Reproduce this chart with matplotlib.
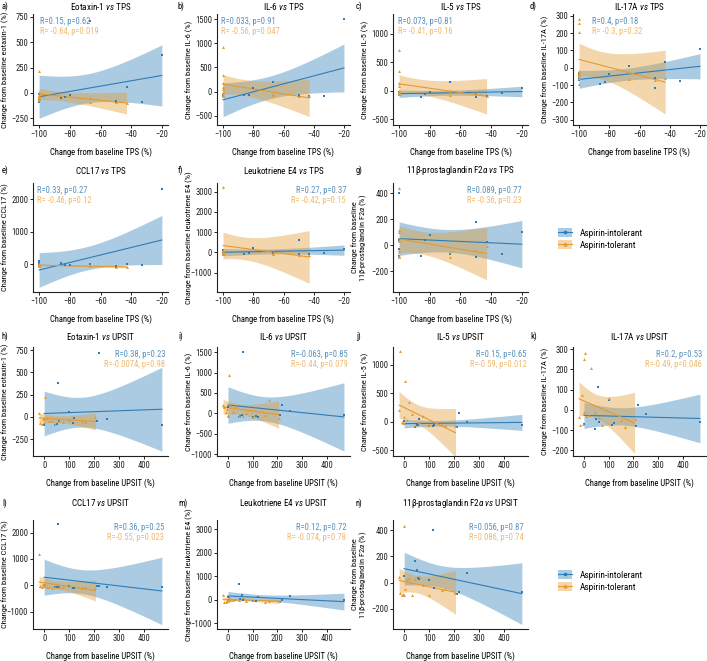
import numpy as np
import matplotlib
matplotlib.use('Agg')
import matplotlib.pyplot as plt
from matplotlib.patches import Patch
from matplotlib.lines import Line2D
from matplotlib import font_manager as fm

names = {f.name for f in fm.fontManager.ttflist}
FONT = 'Lato'
for cand in ['Roboto Condensed', 'Fira Sans Condensed', 'PT Sans Narrow', 'Source Sans 3', 'Source Sans Pro']:
    if cand in names:
        FONT = cand
        break
plt.rcParams['font.family'] = [FONT, 'DejaVu Sans']
plt.rcParams['mathtext.fontset'] = 'custom'
plt.rcParams['mathtext.rm'] = FONT
plt.rcParams['mathtext.it'] = FONT + ':italic'

BLUE = '#2f7db8'
ORANGE = '#e49a30'
BLUE_TXT = '#5a92bd'
ORANGE_TXT = '#efbb72'

# ---------------- shared x values ----------------
tps_int = [-100, -100, -100, -100, -86, -83, -80, -67, -50, -50, -43, -33, -20]
tps_tol = [-100, -100, -100, -100, -100, -100, -100, -100, -100, -67, -67, -50, -43]
upsit_int = [0, 45, 50, 55, 60, 100, 115, 120, 210, 220, 250, 470]
upsit_tol = [-20, -15, -10, -5, 0, 0, 5, 10, 20, 30, 45, 60, 75, 100, 150, 165, 205]

# ---------------- y values (TPS panels) ----------------
eot_tps_int = [-10, -70, -80, -85, -55, -45, -20, 710, -80, -90, 60, -85, 375]
eot_tps_tol = [220, -50, -60, -45, -30, -20, -70, 10, -40, -50, -90, -85, -95]
il6_tps_int = [-100, -80, -60, -90, -70, -60, 70, 200, -60, -80, -80, -90, 1500]
il6_tps_tol = [930, 340, 180, 100, 50, 0, -30, -60, -80, -50, -60, -80, -90]
il5_tps_int = [-30, -60, -70, -50, -110, -60, -20, 150, -60, -110, -90, -40, 50]
il5_tps_tol = [710, 350, 130, 80, 0, -20, -50, -60, -40, 0, -80, -40, -90]
il17_tps_int = [-40, -70, -60, -30, -95, -80, -35, 10, -60, -115, 35, -75, 110]
il17_tps_tol = [280, 260, 205, -30, -40, -60, -95, -50, -20, -25, -65, -70, -60]
ccl_tps_int = [100, 50, -50, 0, 40, -20, -30, 10, -90, -60, 10, -30, 2320]
ccl_tps_tol = [0, -20, -30, -40, 10, -10, -50, -60, 20, -30, -60, -70, -80]
lte_tps_int = [100, -100, 0, 50, -100, -20, 200, -50, 600, -100, -80, -30, 150]
lte_tps_tol = [3200, -100, -50, 0, 50, 100, -20, -80, 20, -50, -100, -120, -150]
pgf_tps_int = [400, -30, -80, 40, -80, 40, 75, -65, 175, -90, 25, -65, 100]
pgf_tps_tol = [440, 120, 100, 40, -40, -90, -80, 30, -50, -55, -90, -40, -10]

# ---------------- y values (UPSIT panels) ----------------
eot_up_int = [-85, -85, -75, 380, -40, 60, -65, -15, -45, 720, -20, -90]
eot_up_tol = [50, -70, -75, -20, -10, -60, 225, -15, -40, -45, -80, -45, -55, -30, -45, -60, -5]
il6_up_int = [150, -80, -60, -50, 1500, -80, -60, -80, -40, 210, 60, -50]
il6_up_tol = [200, 150, 30, 100, -30, -60, 940, 200, 30, 180, -60, -70, 10, -80, -50, 340, -100]
il5_up_int = [20, -100, -60, -50, 50, -80, -70, -50, -90, 160, 0, -50]
il5_up_tol = [200, 1250, 0, -30, 80, -30, 720, 30, 350, 140, -50, 0, 100, -60, -60, -80, -70]
il17_up_int = [-70, -95, -45, 115, -60, 50, -75, -65, -80, 25, -20, -60]
il17_up_tol = [-35, -75, 75, -70, -10, 250, 280, -30, -25, 205, -10, -40, -75, 60, -50, -85, -45]
ccl_up_int = [0, -50, -80, 2330, -50, -10, -90, -100, -10, -30, -60, -50]
ccl_up_tol = [1200, -20, -50, 50, 0, -30, 30, -60, -80, -90, -70, -60, -80, -40, -90, -50, -110]
lte_up_int = [100, 650, 50, 200, 0, -50, -50, 100, -100, 0, 170, -30]
lte_up_tol = [200, -100, -80, 0, 50, -50, 100, -20, -30, 30, -20, 100, -50, -30, -80, -40, -60]
pgf_up_int = [50, 165, 95, 35, 30, 20, 400, -40, -90, -75, 70, -70]
pgf_up_tol = [45, -80, -95, -90, 430, -95, -50, 30, 35, -95, 30, 50, -20, -95, -55, -45, -80]

# ---------------- labels ----------------
letters = list('abcdefghijklmn')
markers = ['Eotaxin-1', 'IL-6', 'IL-5', 'IL-17A', 'CCL17', 'Leukotriene E4',
           '11β-prostaglandin F2$\\alpha$']
ylabels = ['Change from baseline eotaxin-1 (%)', 'Change from baseline IL-6 (%)',
           'Change from baseline IL-5 (%)', 'Change from baseline IL-17A (%)',
           'Change from baseline CCL17 (%)', 'Change from baseline leukotriene E4 (%)',
           'Change from baseline\n11β-prostaglandin F2$\\alpha$ (%)']
stats_int = ['R=0.15, p=0.62', 'R=0.033, p=0.91', 'R=0.073, p=0.81', 'R=0.4, p=0.18',
             'R=0.33, p=0.27', 'R=0.27, p=0.37', 'R=0.089, p=0.77',
             'R=0.38, p=0.23', 'R=-0.063, p=0.85', 'R=0.15, p=0.65', 'R=0.2, p=0.53',
             'R=0.36, p=0.25', 'R=0.12, p=0.72', 'R=0.056, p=0.87']
stats_tol = ['R= -0.64, p=0.019', 'R= -0.56, p=0.047', 'R= -0.41, p=0.16', 'R= -0.3, p=0.32',
             'R= -0.46, p=0.12', 'R= -0.42, p=0.15', 'R= -0.36, p=0.23',
             'R=-0.0074, p=0.98', 'R=-0.44, p=0.079', 'R=-0.59, p=0.012', 'R=-0.49, p=0.046',
             'R=-0.55, p=0.023', 'R= -0.074, p=0.78', 'R=0.086, p=0.74']

ys_int = [eot_tps_int, il6_tps_int, il5_tps_int, il17_tps_int, ccl_tps_int, lte_tps_int, pgf_tps_int,
          eot_up_int, il6_up_int, il5_up_int, il17_up_int, ccl_up_int, lte_up_int, pgf_up_int]
ys_tol = [eot_tps_tol, il6_tps_tol, il5_tps_tol, il17_tps_tol, ccl_tps_tol, lte_tps_tol, pgf_tps_tol,
          eot_up_tol, il6_up_tol, il5_up_tol, il17_up_tol, ccl_up_tol, lte_up_tol, pgf_up_tol]

ylims = [(-317, 779), (-690, 1606), (-602, 1345), (-330, 310), (-843, 2493), (-1950, 3420), (-360, 478),
         (-437, 784), (-1042, 1625), (-603, 1316), (-228, 311), (-1663, 2483), (-1250, 3400), (-353, 477)]
yticks = [[-250, 0, 250, 500, 750], [-500, 0, 500, 1000, 1500], [-500, 0, 500, 1000],
          [-300, -200, -100, 0, 100, 200, 300], [0, 1000, 2000], [-1000, 0, 1000, 2000, 3000],
          [-200, 0, 200, 400],
          [-250, 0, 250, 500, 750], [-1000, -500, 0, 500, 1000, 1500], [-500, 0, 500, 1000],
          [-200, -100, 0, 100, 200, 300], [-1000, 0, 1000, 2000], [-1000, 0, 1000, 2000, 3000],
          [-200, 0, 200, 400]]
# annotation: (x, ha)
ann_pos = [(0.05, 'left'), (0.03, 'left'), (0.04, 'left'), (0.14, 'left'),
           (0.03, 'left'), (0.97, 'right'), (0.95, 'right'),
           (0.98, 'right'), (0.98, 'right'), (0.99, 'right'), (0.97, 'right'),
           (0.97, 'right'), (0.97, 'right'), (0.97, 'right')]

W, H = 707, 661
fig = plt.figure(figsize=(W / 100, H / 100), dpi=100)

col_lr = [(33, 168), (217, 350), (393, 528), (573, 706)]
row_tb = [(14, 125), (183, 292), (347, 456), (520, 629)]
title_y = [6, 170, 336, 503]
letter_x = [2, 178, 356, 530]
panel_grid = [(0, 0), (0, 1), (0, 2), (0, 3), (1, 0), (1, 1), (1, 2),
              (2, 0), (2, 1), (2, 2), (2, 3), (3, 0), (3, 1), (3, 2)]


def t_quant(df, z=1.959964):
    return (z + (z ** 3 + z) / (4 * df) + (5 * z ** 5 + 16 * z ** 3 + 3 * z) / (96 * df ** 2)
            + (3 * z ** 7 + 19 * z ** 5 + 17 * z ** 3 - 15 * z) / (384 * df ** 3))


def regplot(ax, x, y, color, marker, ms):
    x = np.asarray(x, float)
    y = np.asarray(y, float)
    n = len(x)
    b, a = np.polyfit(x, y, 1)
    xs = np.linspace(x.min(), x.max(), 120)
    yh = a + b * xs
    res = y - (a + b * x)
    s = np.sqrt(np.sum(res ** 2) / (n - 2))
    sxx = np.sum((x - x.mean()) ** 2)
    se = s * np.sqrt(1 / n + (xs - x.mean()) ** 2 / sxx)
    t = t_quant(n - 2)
    ax.fill_between(xs, yh - t * se, yh + t * se, color=color, alpha=0.4, lw=0, zorder=1)
    ax.plot(xs, yh, color=color, lw=0.8, zorder=3)
    ax.scatter(x, y, marker=marker, s=ms, color=color, lw=0, zorder=4)


FS = 6.2
for i, (r, c) in enumerate(panel_grid):
    l, rr = col_lr[c]
    t, b = row_tb[r]
    wpx = rr - l
    ax = fig.add_axes([l / W, 1 - b / H, wpx / W, (b - t) / H])
    tps = i < 7
    xi = tps_int if tps else upsit_int
    xt = tps_tol if tps else upsit_tol
    regplot(ax, xi, ys_int[i], BLUE, 's', 3.5)
    regplot(ax, xt, ys_tol[i], ORANGE, '^', 4.5)
    if tps:
        ax.set_xlim(-104, -16)
        ax.set_xticks([-100, -80, -60, -40, -20])
    else:
        ax.set_xlim(-44.5, 494.5)
        ax.set_xticks([0, 100, 200, 300, 400])
    ax.set_ylim(*ylims[i])
    ax.set_yticks(yticks[i])
    for sp in ['top', 'right']:
        ax.spines[sp].set_visible(False)
    for sp in ['left', 'bottom']:
        ax.spines[sp].set_linewidth(0.8)
        ax.spines[sp].set_color('#222222')
    ax.tick_params(labelsize=FS, length=2, width=0.7, pad=1.5, colors='#222222')
    mname = markers[i % 7] if tps else markers[i - 7]
    fig.text((l + rr) / 2 / W, 1 - title_y[r] / H,
             mname + ' $\\mathit{vs}$ ' + ('TPS' if tps else 'UPSIT'),
             fontsize=FS + 0.4, ha='center', va='center')
    fig.text(letter_x[c] / W, 1 - title_y[r] / H, letters[i] + ')', fontsize=FS, va='center', ha='left')
    yl = ylabels[i % 7] if tps else ylabels[i - 7]
    two_line = '\n' in yl
    ax.set_ylabel(yl, fontsize=FS - 0.2, linespacing=1.0)
    ax.yaxis.label.set_va('center')
    ax.yaxis.set_label_coords((-33 if two_line else -28) / wpx, 0.5)
    ax.set_xlabel('Change from baseline ' + ('TPS' if tps else 'UPSIT') + ' (%)', fontsize=FS, labelpad=6)
    axp, ha = ann_pos[i]
    ax.text(axp, 0.97, stats_int[i], transform=ax.transAxes, ha=ha, va='top', fontsize=FS, color=BLUE_TXT)
    ax.text(axp, 0.885, stats_tol[i], transform=ax.transAxes, ha=ha, va='top', fontsize=FS, color=ORANGE_TXT)

handles = [(Patch(facecolor=BLUE, alpha=0.4, lw=0), Line2D([], [], color=BLUE, marker='s', ms=2, lw=0.8)),
           (Patch(facecolor=ORANGE, alpha=0.4, lw=0), Line2D([], [], color=ORANGE, marker='^', ms=2, lw=0.8))]
labels = ['Aspirin-intolerant', 'Aspirin-tolerant']
for ly in [239, 581]:
    fig.legend(handles, labels, loc='center left', bbox_to_anchor=(551 / W, 1 - ly / H), frameon=False,
               fontsize=FS + 0.5, handlelength=1.6, handleheight=1.0, labelspacing=0.3, borderpad=0.2)

fig.savefig('out.png', dpi=100, facecolor='white')
